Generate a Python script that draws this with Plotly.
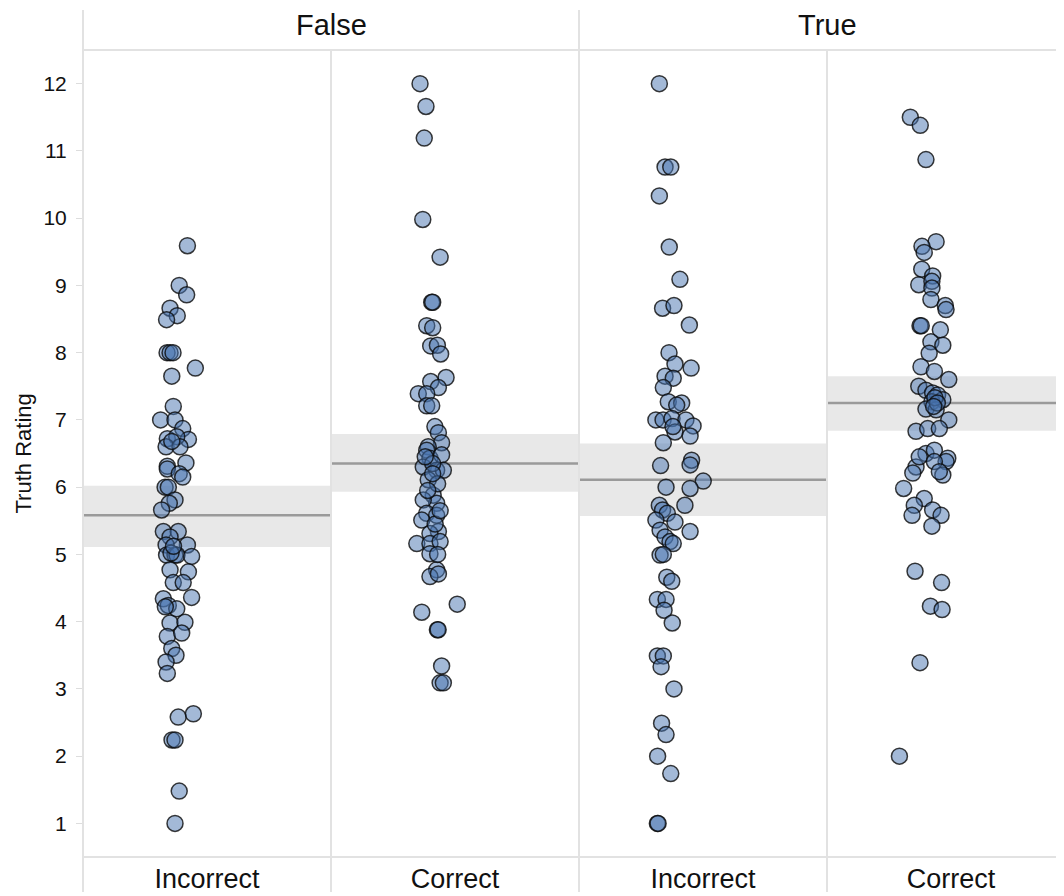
import plotly.graph_objects as go

# ---------------- data ----------------
facets = ["False", "True"]
categories = ["Incorrect", "Correct", "Incorrect", "Correct"]
y_ticks = [1, 2, 3, 4, 5, 6, 7, 8, 9, 10, 11, 12]

# jitter in hundredths of a category width, ratings
false_incorrect_jit = [-7.9, -11.2, -8.2, -14.9, -12.0, -16.3, -16.1, -14.9, -13.7, -4.7, -14.2, -13.6, -18.7, -12.9,
                       -9.8, -16.0, -7.5, -12.2, -16.5, -10.9, -14.2, -8.5, -16.0, -16.0, -11.2, -9.8, -16.9, -15.6,
                       -12.9, -15.2, -18.3, -17.6, -11.6, -14.9, -7.9, -16.5, -16.3, -12.9, -12.1, -6.2, -14.9, -7.5,
                       -13.6, -9.6, -17.6, -15.6, -6.2, -12.2, -14.9, -8.9, -16.0, -10.2, -14.2, -12.5, -16.5, -16.0,
                       -11.6, -5.5, -14.1, -12.9, -11.2, -12.9, -14.5, -16.8, -13.5]
false_incorrect_y = [9.59, 9.00, 8.86, 8.66, 8.55, 8.49, 8.0, 8.0, 8.0, 7.77, 7.65, 7.20, 7.0, 7.0,
                     6.87, 6.72, 6.71, 6.75, 6.60, 6.60, 6.68, 6.36, 6.31, 6.27, 6.20, 6.15, 6.0, 6.0,
                     5.81, 5.76, 5.66, 5.34, 5.34, 5.26, 5.14, 5.14, 4.99, 4.99, 4.99, 4.97, 4.77, 4.74,
                     4.58, 4.58, 4.34, 4.24, 4.36, 4.19, 3.98, 3.99, 3.78, 3.83, 3.60, 3.50, 3.40, 3.23,
                     2.58, 2.63, 2.24, 2.24, 1.48, 1.0, 5.02, 4.22, 5.12]

false_correct_jit = [-14.1, -11.7, -12.4, -13.0, -6.0, -9.4, -9.0, -11.4, -9.0, -9.8, -7.1, -5.8, -3.6, -9.8,
                     -6.7, -14.8, -11.4, -11.4, -9.4, -8.1, -6.7, -5.4, -10.8, -11.4, -10.1, -5.4, -12.8, -7.4,
                     -10.8, -4.7, -8.8, -7.4, -12.8, -11.4, -7.4, -13.4, -6.7, -10.1, -15.4, -10.1, -6.0, -10.1,
                     -7.4, -10.1, -6.7, -13.4, 0.9, -7.1, -6.8, -5.4, -6.0, -4.7,
                     -9.0, -7.0, -11.0, -8.0, -6.0, -9.0, -12.0, -7.0]
false_correct_y = [12.0, 11.66, 11.19, 9.98, 9.42, 8.75, 8.75, 8.40, 8.37, 8.10, 8.11, 7.98, 7.63, 7.57,
                   7.48, 7.39, 7.39, 7.21, 7.21, 6.90, 6.81, 6.66, 6.60, 6.55, 6.43, 6.48, 6.30, 6.25,
                   6.11, 6.25, 5.88, 5.76, 5.81, 5.61, 5.58, 5.51, 5.34, 5.31, 5.16, 5.16, 5.19, 5.01,
                   4.77, 4.67, 4.71, 4.14, 4.26, 3.88, 3.88, 3.34, 3.09, 3.09,
                   6.35, 6.05, 5.95, 5.45, 5.65, 6.20, 6.45, 5.00]

true_incorrect_jit = [-17.6, -15.3, -13.0, -17.6, -13.6, -9.3, -16.3, -11.7, -5.5, -13.7, -11.3, -4.8, -15.3, -12.0,
                      -16.0, -14.0, -8.6, -10.6, -19.0, -16.1, -12.5, -6.9, -4.0, -11.3, -5.2, -16.0, -12.1,
                      -4.6, -5.2, -17.1, 0.1, -14.9, -5.2, -7.3, -17.6, -16.3, -14.4, -19.0, -11.3, -17.3, -5.2,
                      -15.3, -13.3, -12.0, -17.3, -16.0, -14.6, -12.6, -18.4, -14.9, -15.7, -12.4, -18.4, -16.0,
                      -16.9, -11.7, -16.7, -14.9, -18.3, -13.0, -18.4, -18.1]
true_incorrect_y = [12.0, 10.76, 10.76, 10.33, 9.57, 9.09, 8.66, 8.70, 8.41, 8.0, 7.83, 7.77, 7.65, 7.62,
                    7.48, 7.27, 7.25, 7.22, 7.0, 7.0, 7.02, 7.0, 6.91, 6.82, 6.76, 6.66, 6.90,
                    6.40, 6.33, 6.32, 6.09, 6.0, 5.98, 5.73, 5.73, 5.66, 5.61, 5.51, 5.48, 5.36, 5.34,
                    5.26, 5.19, 5.16, 4.99, 5.0, 4.66, 4.60, 4.33, 4.33, 4.17, 3.98, 3.49, 3.49,
                    3.33, 3.0, 2.49, 2.32, 2.0, 1.74, 1.0, 1.0]

true_correct_jit = [-16.4, -12.4, -10.1, -6.0, -11.7, -10.8, -11.8, -7.4, -13.0, -7.7, -7.7, -8.1, -2.3, -2.0,
                    -12.5, -12.0, -4.3, -8.1, -3.3, -8.8, -12.1, -6.7, -0.9, -13.0, -10.1, -7.4, -5.4, -3.3,
                    -7.7, -10.1, -6.0, -0.9, -14.1, -9.4, -4.7, -10.1, -6.7, -1.3, -14.1,
                    -12.8, -2.0, -6.7, -15.4, -3.3, -4.7, -19.1, -10.8, -14.8, -15.7, -7.4, -4.0, -7.7,
                    -14.5, -3.8, -8.3, -3.6, -12.5, -20.8, -6.5, -5.5, -7.0]
true_correct_y = [11.50, 11.38, 10.87, 9.65, 9.58, 9.49, 9.24, 9.14, 9.01, 9.06, 8.96, 8.79, 8.70, 8.64,
                  8.40, 8.40, 8.34, 8.16, 8.11, 7.99, 7.79, 7.72, 7.60, 7.50, 7.44, 7.40, 7.37, 7.30,
                  7.27, 7.16, 7.15, 7.0, 6.83, 6.87, 6.87, 6.50, 6.55, 6.43, 6.30,
                  6.45, 6.38, 6.38, 6.21, 6.18, 6.23, 5.98, 5.83, 5.73, 5.58, 5.66, 5.58, 5.42,
                  4.75, 4.58, 4.23, 4.18, 3.39, 2.0, 7.33, 7.25, 7.20]

means = [5.58, 6.35, 6.11, 7.25]
ci_low = [5.11, 5.93, 5.57, 6.84]
ci_high = [6.02, 6.79, 6.65, 7.65]

# ---------------- figure ----------------
OFF = 8  # page body margin
W, H = 1064 - OFF, 896 - OFF
ML, MR = 83 - OFF, 0
MT = 50 - OFF
MB = H - (857 - OFF)
panel_px = 248.0
XMAX = (W - ML - MR) / panel_px

groups = [
    (false_incorrect_jit, false_incorrect_y),
    (false_correct_jit, false_correct_y),
    (true_incorrect_jit, true_incorrect_y),
    (true_correct_jit, true_correct_y),
]

fig = go.Figure()
for i, (jit, ys) in enumerate(groups):
    fig.add_trace(go.Scatter(
        x=[i + 0.5 + j / 100.0 for j in jit],
        y=ys,
        mode="markers",
        marker=dict(size=16, color="rgba(71,115,175,0.5)",
                    line=dict(color="rgba(10,10,10,0.8)", width=1.5)),
        showlegend=False,
        hoverinfo="y",
    ))

shapes = []
grid_col = "#e2e2e2"
for i in range(4):
    shapes.append(dict(type="rect", xref="x", yref="y", x0=i, x1=i + 1,
                       y0=ci_low[i], y1=ci_high[i], fillcolor="#e8e8e8",
                       line=dict(width=0), layer="below"))
    shapes.append(dict(type="line", xref="x", yref="y", x0=i, x1=i + 1,
                       y0=means[i], y1=means[i], line=dict(color="#9a9a9a", width=2.5),
                       layer="below"))

plot_h = H - MT - MB
def py(pix_ref):
    # reference-screen pixel row -> paper y
    return (H - MB - (pix_ref - OFF)) / plot_h

def px(pix_ref):
    return ((pix_ref - OFF) - ML) / (W - ML - MR)

for k in range(4):
    top = py(10) if k in (0, 2) else 1.0
    shapes.append(dict(type="line", xref="paper", yref="paper",
                       x0=k / XMAX, x1=k / XMAX, y0=py(892), y1=top,
                       line=dict(color=grid_col, width=2), layer="above"))
shapes.append(dict(type="line", xref="paper", yref="paper", x0=0, x1=1, y0=1.0, y1=1.0,
                   line=dict(color=grid_col, width=2)))
shapes.append(dict(type="line", xref="paper", yref="paper", x0=0, x1=1, y0=0.0, y1=0.0,
                   line=dict(color=grid_col, width=2)))

annotations = []
for fi, name in enumerate(facets):
    annotations.append(dict(text=name, xref="x", yref="paper", x=2 * fi + 1, y=py(25),
                            xanchor="center", yanchor="middle", showarrow=False,
                            font=dict(size=29, color="#111")))
annotations.append(dict(text="Truth Rating", xref="paper", yref="paper",
                        x=px(23), y=0.5, textangle=-90,
                        xanchor="center", yanchor="middle", showarrow=False,
                        font=dict(size=22, color="#111")))

fig.update_layout(
    width=W, height=H,
    margin=dict(l=ML, r=MR, t=MT, b=MB, pad=0),
    paper_bgcolor="white", plot_bgcolor="white",
    font=dict(family="Liberation Sans, Arial, Helvetica, sans-serif", color="#111"),
    shapes=shapes, annotations=annotations,
    xaxis=dict(range=[0, XMAX], tickvals=[0.5, 1.5, 2.5, 3.5], ticktext=categories,
               showgrid=False, zeroline=False, showline=False, ticks="",
               tickfont=dict(size=27, color="#111"), automargin=False,
               ticklabelstandoff=3, fixedrange=True),
    yaxis=dict(range=[0.5, 12.5], tickvals=y_ticks, ticktext=[str(v) for v in y_ticks],
               showgrid=False, zeroline=False, showline=False, ticks="outside",
               ticklen=6, tickcolor="#dddddd", tickwidth=1,
               tickfont=dict(size=21, color="#111"), automargin=False,
               ticklabelstandoff=5, fixedrange=True),
)

fig.write_html("out.html")
